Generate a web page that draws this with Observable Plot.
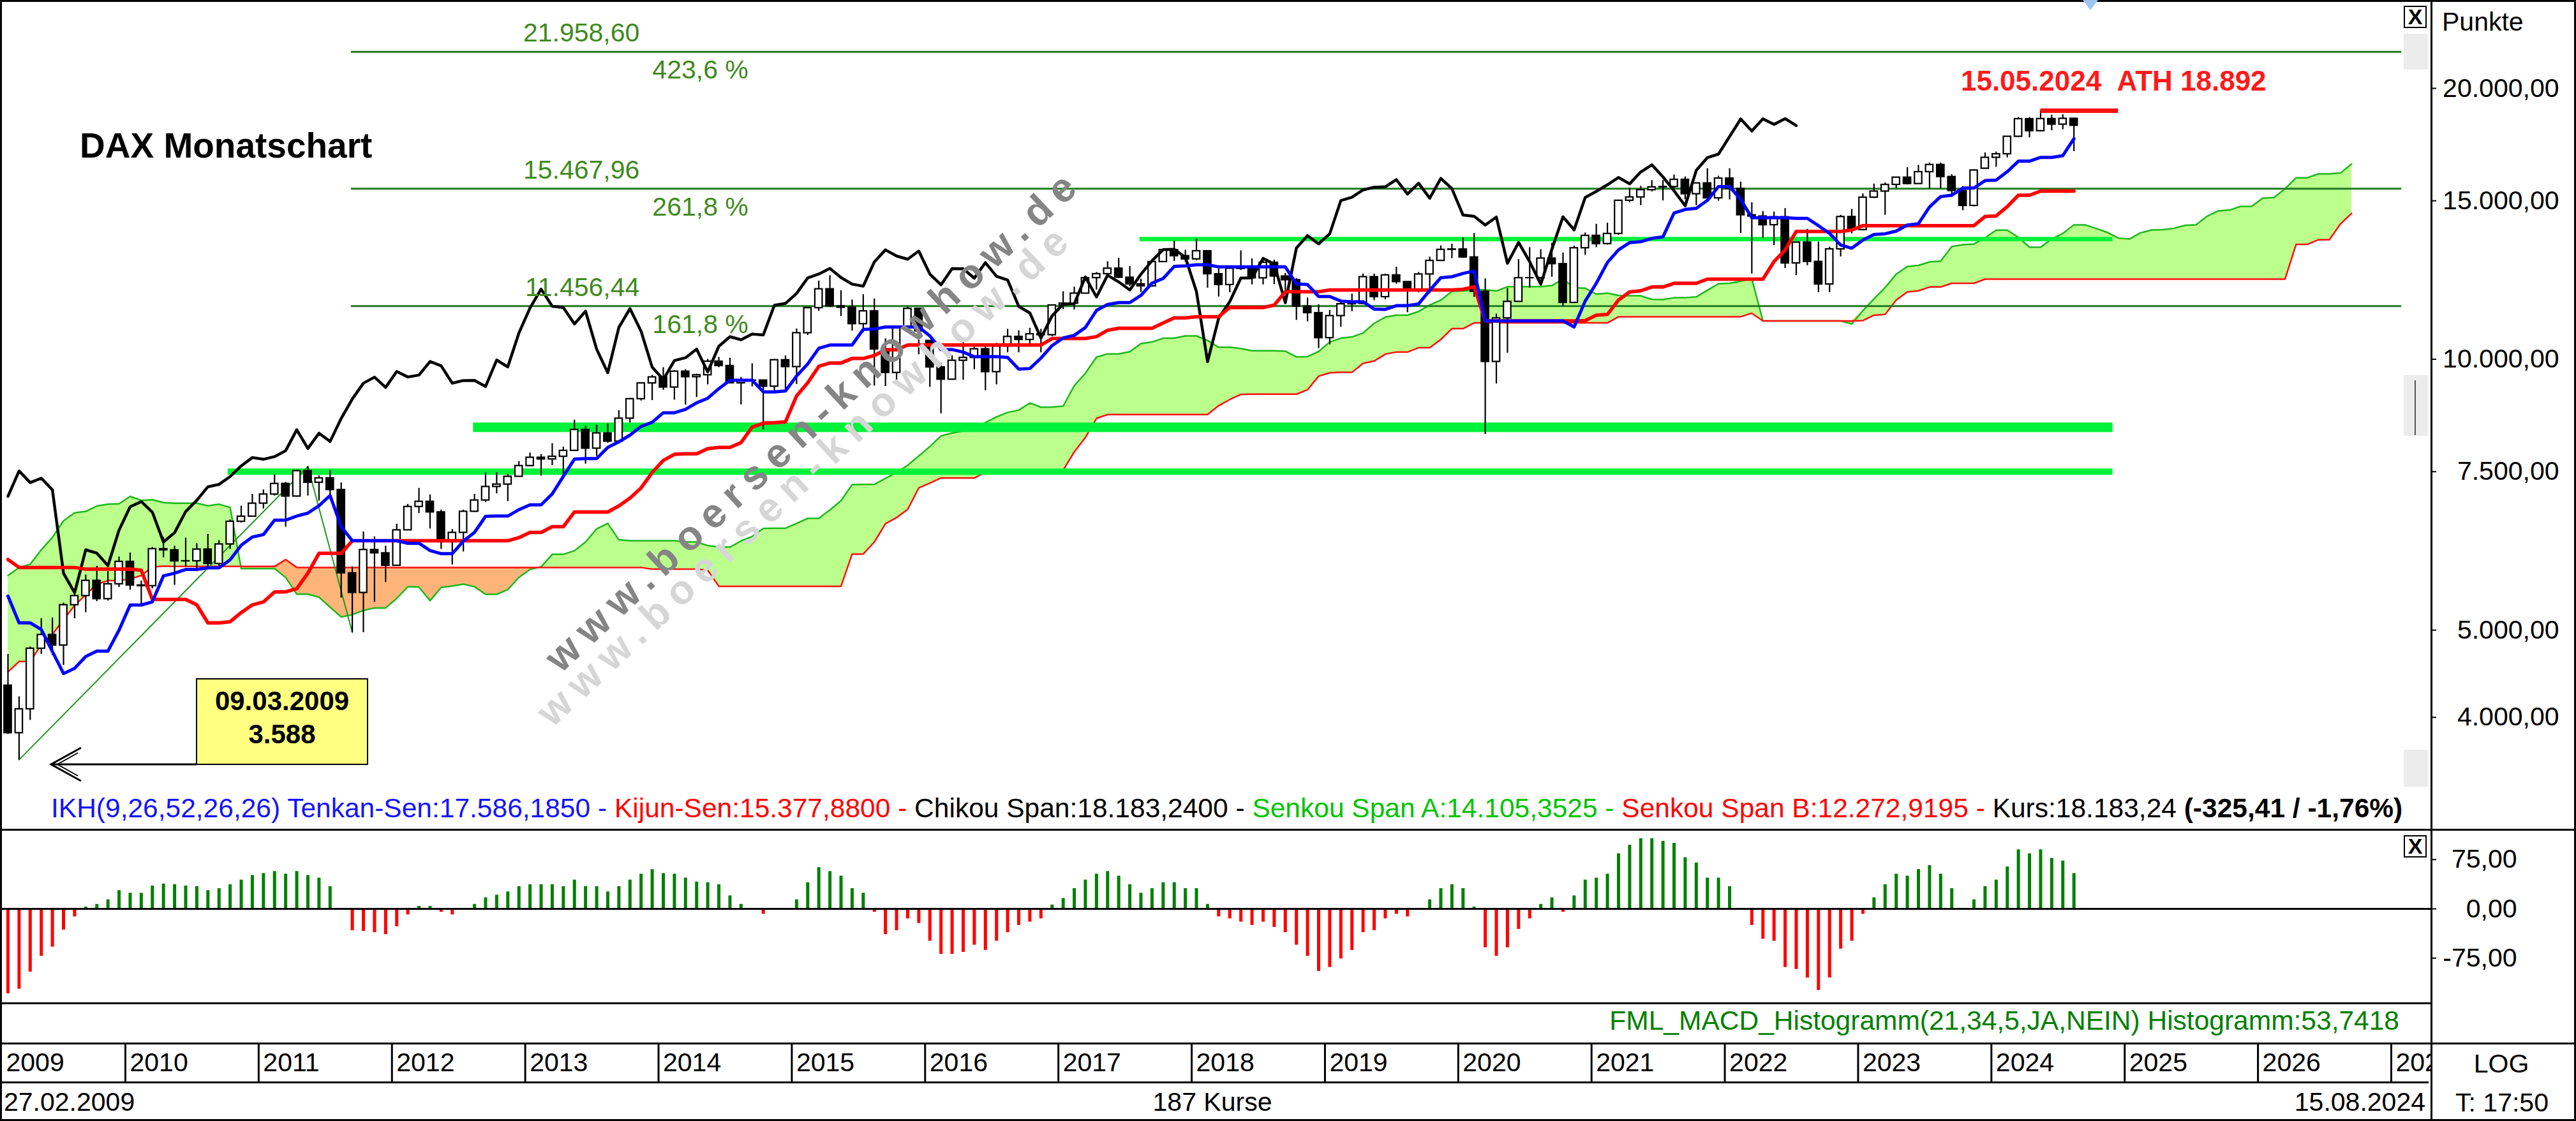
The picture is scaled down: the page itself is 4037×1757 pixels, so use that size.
<!DOCTYPE html>
<html><head><meta charset="utf-8">
<script src="https://cdn.jsdelivr.net/npm/d3@7"></script>
<script src="https://cdn.jsdelivr.net/npm/@observablehq/plot@0.6"></script>
<style>
html,body{margin:0;padding:0;background:#fff;}
#wrap{position:relative;width:4037px;height:1757px;overflow:hidden;background:#fff;font-family:"Liberation Sans",Arial,sans-serif;color:#000;}
#wrap svg{position:absolute;left:0;}
.t{position:absolute;white-space:nowrap;font-size:41px;line-height:48px;height:48px;}
.ln{position:absolute;background:#000;}
.gbox{position:absolute;background:#ececec;}
.xbox{position:absolute;border:2px solid #000;box-sizing:border-box;font-size:34px;line-height:30px;text-align:center;font-weight:bold;background:#fff;}
.wm{position:absolute;white-space:nowrap;font-weight:bold;font-size:64px;letter-spacing:14px;transform:translate(-50%,-50%) rotate(-43deg);}
</style></head><body><div id="wrap"></div>
<script>
// ---------------- DATA (monthly DAX candles, Feb 2009 .. Aug 2024) ----------------
const open = [
4340,3843,4085,4770,4941,4809,5332,5458,5675,5415,5625,
5957,5608,5598,6154,6136,5965,5966,6148,5925,6229,6601,6688,
6914,7077,7272,7041,7514,7294,7376,7159,5785,5502,6141,6089,
5898,6458,6856,6947,6761,6264,6416,6772,6970,7216,7260,7406,
7612,7776,7742,7795,7914,8349,7959,8276,8103,8594,9033,9405,
9552,9306,9692,9556,9603,9943,9833,9407,9470,9474,9327,9980,
9806,10694,11402,11966,11454,11414,10945,11309,10259,9660,10850,11382,
10485,9798,9495,9966,10039,10263,9680,10337,10593,10511,10665,10640,
11481,11535,11834,12313,12438,12615,12325,12118,12056,12829,13230,13024,
12918,13189,12436,12097,12612,12605,12306,12806,12364,12247,11448,11257,
10559,11173,11516,11526,12344,11727,12399,12189,11939,12428,12867,13236,
13249,12981,11890,9936,11107,11587,12311,12313,12945,12761,11556,13291,
13719,13433,13786,15008,15136,15421,15531,15544,15835,15261,15689,15100,
15885,15471,14461,14415,14098,14388,12784,13484,12835,12114,13253,14397,
13924,15128,15365,15629,15922,15664,16148,16447,15947,15387,14810,16290,
16752,16904,17678,18492,17932,18498,18235,18509];
const high = [
4700,4217,4790,5150,5160,5360,5480,5760,5890,5810,6030,
6094,5670,6180,6340,6200,6330,6240,6390,6290,6630,6870,7080,
7160,7440,7300,7530,7600,7420,7520,7290,5880,6430,6350,6200,
6560,6900,7190,7070,6800,6470,6800,7080,7480,7480,7450,7700,
7870,7840,8060,7990,8560,8430,8450,8480,8770,9050,9420,9600,
9790,9720,9740,9630,10000,10050,10030,9550,9890,9480,10000,10090,
10810,11410,12220,12390,11920,11640,11800,11670,10540,10880,11430,11390,
10490,9900,10100,10490,10340,10350,10420,10800,10760,10830,10800,11490,
11890,12030,12320,12490,12840,12950,12680,12280,12840,13240,13530,13220,
13600,13210,12600,12660,13200,12930,12880,12890,12460,12300,11700,11500,
11330,11590,11820,12440,12440,12440,12660,12200,12490,12990,13370,13430,
13640,13800,12290,11230,11990,12910,13310,13240,13460,13130,13360,13820,
14130,14170,15010,15500,15570,15800,15800,16030,15950,15700,16290,15980,
16290,15740,14930,14600,14580,14710,13490,13950,13500,13330,14460,14680,
15270,15660,15710,15930,16330,16430,16530,16530,16040,15560,16250,16960,
17000,17690,18570,18570,18892,18680,18700,18540];
const low = [
3830,3588,3970,4700,4690,4570,5150,5230,5380,5390,5580,
5540,5340,5560,6020,5610,5880,5810,5860,5890,6150,6580,6680,
6820,7050,6510,7030,7050,6960,7000,5430,4970,4970,5370,5650,
5890,6450,6740,6480,6150,5910,6110,6760,6930,7090,6950,7400,
7600,7420,7620,7420,7900,7650,7800,8070,8100,8500,8990,9000,
9240,9010,8900,9070,9370,9790,9400,8900,9320,8350,9200,9220,
9380,10630,11310,11420,11160,10750,10710,9340,9330,9360,10710,10120,
9310,8700,9480,9480,9740,9230,9370,10170,10170,10340,10170,10600,
11360,11350,11830,11940,12420,12300,12050,11870,12030,12820,12850,12830,
12870,12000,11730,11860,12560,12100,12100,12110,11870,11050,11010,10280,
10380,10860,11300,11500,11620,11650,12120,11270,11860,11830,12860,12940,
12950,11720,8256,9390,10160,11800,12000,12250,12340,11450,11550,13050,
13310,13400,13740,14930,14820,15350,15000,15440,15050,14820,15100,14990,
15040,13800,12440,13620,13380,12620,12390,12710,11863,11860,13000,13790,
13900,15090,14460,15480,15630,15730,15460,15470,15140,14630,14780,16280,
16350,16750,17650,17630,17900,17950,18000,17020];
const close = [
3843,4085,4770,4941,4809,5332,5458,5675,5415,5625,5957,
5608,5598,6154,6136,5965,5966,6148,5925,6229,6601,6688,6914,
7077,7272,7041,7514,7294,7376,7159,5785,5502,6141,6089,5898,
6458,6856,6947,6761,6264,6416,6772,6970,7216,7260,7406,7612,
7776,7742,7795,7914,8349,7959,8276,8103,8594,9033,9405,9552,
9306,9692,9556,9603,9943,9833,9407,9470,9474,9327,9980,9806,
10694,11402,11966,11454,11414,10945,11309,10259,9660,10850,11382,10743,
9798,9495,9966,10039,10263,9680,10337,10593,10511,10665,10640,11481,
11535,11834,12313,12438,12615,12325,12118,12056,12829,13230,13024,12918,
13189,12436,12097,12612,12605,12306,12806,12364,12247,11448,11257,10559,
11173,11516,11526,12344,11727,12399,12189,11939,12428,12867,13236,13249,
12981,11890,9936,11107,11587,12311,12313,12945,12761,11556,13291,13719,
13433,13786,15008,15136,15421,15531,15544,15835,15261,15689,15100,15885,
15471,14461,14415,14098,14388,12784,13484,12835,12114,13253,14397,13924,
15128,15365,15629,15922,15664,16148,16447,15947,15387,14810,16215,16752,
16904,17678,18492,17932,18498,18235,18509,18183];

// Ichimoku lines (one value per monthly candle)
const tenkan = [
5455,5094,5094,5009,4734,4474,4534,4674,4739,4739,5000,
5332,5332,5375,5745,5785,5840,5840,5865,5865,5985,6215,6345,
6385,6625,6625,6695,6745,6875,7055,6515,6285,6285,6285,6285,
6285,6245,6245,6130,6080,6080,6280,6420,6690,6695,6695,6805,
6890,6890,7085,7410,7745,7755,7755,7980,8095,8235,8420,8510,
8720,8720,8795,8945,9050,9275,9475,9475,9475,9200,9200,9220,
9580,9880,10285,10370,10370,10370,10795,10805,10860,10860,10860,10860,
10615,10250,10250,10185,10065,10065,10065,10045,9750,9765,10030,10355,
10560,10630,10845,11330,11505,11560,11560,11775,12150,12295,12680,12700,
12735,12735,12665,12665,12665,12665,12665,12665,12665,12130,12105,11740,
11740,11605,11585,11585,11370,11360,11470,11470,11520,11925,12320,12350,
12455,12535,11030,11030,11030,11030,11030,11030,11030,11030,10860,11605,
12145,12810,13230,13475,13510,13625,13675,14540,14670,14715,15015,15555,
15555,15045,14365,14365,14365,14365,14340,14340,14075,13800,13395,13285,
13565,13760,13785,13880,14095,14145,14765,15160,15215,15495,15495,15795,
15815,16160,16600,16600,16761,16761,16836,17586];
const kijun = [
5990,5870,5870,5870,5870,5870,5870,5844,5844,5844,5844,
5844,5829,5409,5409,5409,5409,5334,5094,5094,5109,5229,5334,
5374,5514,5514,5559,5785,6085,6085,6085,6285,6285,6285,6285,
6285,6285,6285,6285,6285,6285,6285,6285,6285,6285,6285,6335,
6420,6420,6515,6515,6765,6765,6765,6765,6870,7010,7195,7485,
7720,7840,7850,7850,7955,7980,7980,8080,8405,8490,8500,8520,
9105,9415,9820,9905,9905,10020,10020,10095,10245,10245,10370,10370,
10370,10370,10370,10370,10370,10370,10370,10370,10370,10370,10370,10545,
10545,10545,10545,10595,10770,10825,10825,10825,10825,10970,11115,11115,
11150,11150,11150,11415,11415,11415,11415,11485,11885,11885,11885,11885,
11940,11940,11940,11940,11940,11940,11940,11940,11940,11940,11940,11940,
11960,12040,11030,11030,11030,11030,11030,11030,11030,11030,11030,11040,
11195,11215,11635,11880,11915,12030,12030,12145,12145,12145,12275,12275,
12275,12275,12275,12275,12840,13225,13870,13870,13870,13870,13870,13920,
14075,14075,14075,14075,14075,14075,14075,14075,14075,14075,14075,14410,
14430,14775,15215,15215,15376,15376,15376,15376];
// Senkou spans, already displaced 26 periods: index 0 = Feb 2009 ... 211 = Sep 2026
const senkouA = [
5750,5868,5920,6140,6340,6615,6750,6775,6870,6900,6910,7040,6970,6980,6930,6918,6918,6918,6873,6900,6845,5852,5852,5852,5852,
5723,5482,5482,5440,5302,5172,5202,5259,5292,5292,5422,
5588,5581,5392,5577,5597,5625,5587,5480,5480,5547,5722,5840,
5880,6070,6070,6127,6265,6480,6570,6300,6285,6285,6285,6285,
6285,6265,6265,6208,6183,6183,6283,6353,6485,6490,6490,6570,
6655,6655,6800,6963,7255,7260,7260,7373,7483,7623,7808,7998,
8220,8280,8323,8398,8503,8628,8728,8778,8940,8845,8850,8870,
9343,9648,10053,10138,10138,10195,10408,10450,10553,10553,10615,10615,
10493,10310,10310,10278,10218,10218,10218,10208,10060,10068,10200,10450,
10553,10588,10695,10963,11138,11193,11193,11300,11488,11633,11898,11908,
11943,11943,11908,12040,12040,12040,12040,12075,12275,12008,11995,11813,
11840,11773,11763,11763,11655,11650,11705,11705,11730,11933,12130,12145,
12208,12288,11030,11030,11030,11030,11030,11030,11030,11030,10945,11323,
11670,12013,12433,12678,12713,12828,12853,13343,13408,13430,13645,13915,
13915,13660,13320,13320,13603,13795,14105,14105,13973,13835,13633,13603,
13820,13918,13930,13978,14085,14110,14420,14618,14645,14785,14785,15103,
15123,15468,15908,15908,16069,16069,16106,16481];
const senkouB = [
4494,4614,4614,4819,4944,5139,5325,5475,5625,5675,5675,5700,5750,5875,5890,5885,5885,5885,5885,5885,5885,5885,5885,5885,5885,
5990,5870,5870,5870,5870,5870,5870,5870,5870,5870,5870,
5870,5870,5870,5870,5870,5870,5870,5870,5870,5870,5870,5870,
5870,5870,5870,5870,5870,5870,5870,5870,5870,5870,5844,5844,
5844,5844,5844,5829,5594,5594,5594,5594,5594,5594,5594,5594,
5594,5594,5594,5594,6074,6074,6265,6565,6670,6810,7195,7285,
7380,7380,7380,7380,7485,7510,7510,7510,7510,7510,7510,7530,
7890,8185,8595,8680,8680,8680,8680,8680,8680,8680,8680,8680,
8680,8880,9020,9140,9145,9145,9145,9145,9145,9250,9575,9660,
9670,9670,9895,9955,10130,10185,10185,10300,10300,10520,10815,10815,
10975,10975,10975,10975,10975,10975,10975,10975,10975,10975,10975,10975,
10975,11150,11150,11150,11150,11150,11150,11150,11150,11150,11150,11150,
11150,11250,11030,11030,11030,11030,11030,11030,11030,11030,11030,11040,
11195,11215,11635,11880,11915,12030,12030,12145,12145,12145,12275,12275,
12275,12275,12275,12275,12275,12275,12275,12275,12275,12275,12275,12275,
12275,12275,12275,12275,12275,12275,12275,12275,12275,12275,12275,12275,
12275,12275,13415,13415,13576,13576,14141,14526];
// FML MACD histogram (21,34,5), one value per candle
const macdHist = [
-129,-122,-96,-72,-58,-32,-12,3,7,14,
28,24,24,35,38,37,35,34,28,31,
37,44,51,54,57,53,57,51,47,34,
-2,-33,-34,-36,-39,-27,-9,4,4,-5,
-9,1,7,17,21,26,34,37,37,37,
34,44,34,34,26,34,44,53,60,54,
53,47,41,40,37,20,7,0,-8,0,
0,14,40,63,57,50,31,24,-5,-39,
-33,-15,-22,-49,-69,-69,-66,-55,-63,-49,
-36,-25,-20,-15,6,16,31,44,53,57,
50,37,24,31,40,40,31,31,7,-12,
-15,-20,-25,-20,-28,-36,-55,-72,-95,-89,
-76,-63,-36,-33,-15,-8,-12,0,14,31,
37,31,3,-59,-72,-59,-31,-15,7,17,
-5,20,44,47,53,84,97,107,107,103,
100,78,70,47,47,34,0,-25,-46,-49,
-89,-92,-105,-124,-105,-61,-49,-8,17,37,
53,50,60,66,53,31,0,14,34,44,
64,90,84,90,77,73,54];
const chikouShift = 25;

// Annotation levels (value, and month index range)
const fibLevels = [11456.44, 15467.96, 21958.60];
const fibPct = ["161,8 %", "261,8 %", "423,6 %"];
const fibFrom = 30.9, fibTo = 215.5;
const supportLevels = [13600, 8400, 7500];
const supportFrom = [101.9, 41.9, 19.8];
const supportTo = 189.5;
const trendPts = [{i: 1, v: 3588}, {i: 27, v: 7600}, {i: 31, v: 4970}];
const ath = {i: 183, to: 190, v: 18892, date: "15.05.2024"};
const yTicks = [4000, 5000, 7500, 10000, 15000, 20000];
const macdTicks = [75, 0, -75];
const yearLabels = ["2010","2011","2012","2013","2014","2015","2016","2017","2018","2019","2020","2021","2022","2023","2024","2025","2026","2027"];
const firstYear = "2009";

// ---------------- CHART ----------------
const de = d3.formatLocale({decimal: ",", thousands: ".", grouping: [3], currency: ["", ""], minus: "-"});
const fmt2 = de.format(",.2f");
const fmt0 = de.format(",.0f");
const FONT = "'Liberation Sans', Arial, sans-serif";
const xDomain = [-0.689, 218.19];
const W = 4037, MR = 227;
const wrap = document.getElementById("wrap");

const candles = close.map((c, i) => ({i, o: open[i], h: high[i], l: low[i], c}));
const ichi = tenkan.map((t, i) => ({i, t, k: kijun[i]}));
const cloud = senkouA.map((a, j) => ({j, a, b: senkouB[j]}));
const chikou = close.map((c, i) => ({x: i - chikouShift, c})).filter(d => d.x >= 0);
const macd = macdHist.map((v, i) => ({i, v}));

const baseStyle = {fontFamily: FONT, fontSize: "41px", background: "transparent", overflow: "visible", color: "#000"};

const main = Plot.plot({
  width: W, height: 1300,
  marginTop: 3, marginBottom: 3, marginLeft: 0, marginRight: MR,
  x: {domain: xDomain, axis: null},
  y: {type: "log", domain: [3015, 24930]},
  style: baseStyle,
  marks: [
    Plot.areaY(cloud, {x: "j", y1: "b", y2: d => Math.max(d.a, d.b), fill: "#bbff8c"}),
    Plot.areaY(cloud, {x: "j", y1: "a", y2: d => Math.max(d.a, d.b), fill: "#ffb57a"}),
    Plot.line(cloud, {x: "j", y: "a", stroke: "#1cb81c", strokeWidth: 2.5}),
    Plot.line(cloud, {x: "j", y: "b", stroke: "#ff1010", strokeWidth: 2.5}),
    Plot.ruleY(fibLevels, {y: d => d, x1: () => fibFrom, x2: () => fibTo, stroke: "#217a21", strokeWidth: 3}),
    Plot.ruleY([supportLevels[0]], {y: d => d, x1: () => supportFrom[0], x2: () => supportTo, stroke: "#00f23a", strokeWidth: 7}),
    Plot.ruleY([supportLevels[1]], {y: d => d, x1: () => supportFrom[1], x2: () => supportTo, stroke: "#00f23a", strokeWidth: 15}),
    Plot.ruleY([supportLevels[2]], {y: d => d, x1: () => supportFrom[2], x2: () => supportTo, stroke: "#00f23a", strokeWidth: 10}),
    Plot.line(trendPts, {x: "i", y: "v", stroke: "#1f961f", strokeWidth: 2}),
    Plot.ruleX(candles, {x: "i", y1: "l", y2: "h", stroke: "#000", strokeWidth: 2.2}),
    Plot.rect(candles, {x1: d => d.i - 0.33, x2: d => d.i + 0.33, y1: "o", y2: "c",
      fill: d => d.c >= d.o ? "#ffffff" : "#000000", stroke: "#000", strokeWidth: 2.2}),
    Plot.line(chikou, {x: "x", y: "c", stroke: "#000", strokeWidth: 4.5}),
    Plot.line(ichi, {x: "i", y: "k", stroke: "#ff0000", strokeWidth: 5.5}),
    Plot.line(ichi, {x: "i", y: "t", stroke: "#0000ff", strokeWidth: 5}),
    Plot.ruleY([ath], {y: "v", x1: "i", x2: "to", stroke: "#ff1010", strokeWidth: 7}),
    Plot.text(fibLevels, {x: () => fibFrom, y: d => d, text: d => fmt2(d), textAnchor: "end", dx: 452, dy: -29, fill: "#3f8a1c", fontSize: 41}),
    Plot.text(fibLevels, {x: () => fibFrom, y: d => d, text: (d, i) => fibPct[i], textAnchor: "start", dx: 472, dy: 29, fill: "#3f8a1c", fontSize: 41}),
    Plot.text([ath], {x: "i", y: "v", text: d => d.date + "\u00a0\u00a0ATH " + fmt0(d.v), textAnchor: "start", dx: -125, dy: -45, fill: "#ff1a1a", fontWeight: "bold", fontSize: 44}),
    Plot.axisY({anchor: "right", ticks: yTicks, tickFormat: fmt2, tickSize: 7, tickPadding: 193, textAnchor: "end", fontSize: 41, strokeWidth: 2, label: null})
  ]
});
main.style.top = "0px";
wrap.appendChild(main);

const macdPlot = Plot.plot({
  width: W, height: 272,
  marginTop: 0, marginBottom: 0, marginLeft: 0, marginRight: MR,
  x: {domain: xDomain, axis: null},
  y: {domain: [-143.7, 120.4]},
  style: baseStyle,
  marks: [
    Plot.ruleX(macd, {x: "i", y1: 0, y2: "v", stroke: d => d.v >= 0 ? "#008000" : "#ff0000", strokeWidth: 5}),
    Plot.ruleY([0], {stroke: "#000", strokeWidth: 3}),
    Plot.axisY({anchor: "right", ticks: macdTicks, tickFormat: fmt2, tickSize: 7, tickPadding: 127, textAnchor: "end", fontSize: 41, strokeWidth: 2, label: null})
  ]
});
macdPlot.style.top = "1300px";
wrap.appendChild(macdPlot);

const axisPlot = Plot.plot({
  width: W, height: 61,
  marginTop: 0, marginBottom: 0, marginLeft: 0, marginRight: MR,
  x: {domain: xDomain, axis: null},
  style: baseStyle,
  marks: [
    Plot.ruleX(yearLabels, {x: d => 12 * (+d - +firstYear) - 1.43, stroke: "#000", strokeWidth: 3}),
    Plot.text(yearLabels, {x: d => 12 * (+d - +firstYear) - 1.43, text: d => d, textAnchor: "start", dx: 7, fontSize: 41, clip: true}),
    Plot.text([firstYear], {frameAnchor: "left", text: d => d, textAnchor: "start", dx: 9, fontSize: 41})
  ]
});
axisPlot.style.top = "1635px";
wrap.appendChild(axisPlot);

// ---------------- FURNITURE / TEXT ----------------
function el(cls, css, html) {
  const d = document.createElement("div");
  d.className = cls;
  Object.assign(d.style, css);
  if (html != null) d.innerHTML = html;
  wrap.appendChild(d);
  return d;
}
// separators
el("ln", {left: "3809px", top: "0px", width: "3px", height: "1757px"});
el("ln", {left: "0px", top: "1299px", width: "4037px", height: "3px"});
el("ln", {left: "0px", top: "1571px", width: "3811px", height: "3px"});
el("ln", {left: "0px", top: "1634px", width: "4037px", height: "3px"});
el("ln", {left: "0px", top: "1695px", width: "3806px", height: "3px"});
el("", {position: "absolute", left: "0", top: "0", width: "4037px", height: "1757px", border: "3px solid #000", boxSizing: "border-box"});

// right-side widgets
el("xbox", {left: "3767px", top: "9px", width: "36px", height: "35px"}, "X");
el("gbox", {left: "3767px", top: "53px", width: "38px", height: "56px"});
el("gbox", {left: "3767px", top: "588px", width: "38px", height: "95px"});
el("ln", {left: "3784px", top: "596px", width: "2px", height: "86px", background: "#555"});
el("gbox", {left: "3767px", top: "1175px", width: "38px", height: "58px"});
el("xbox", {left: "3767px", top: "1309px", width: "36px", height: "35px"}, "X");
el("", {position: "absolute", left: "3264px", top: "0px", width: "0", height: "0", borderLeft: "12px solid transparent", borderRight: "12px solid transparent", borderTop: "16px solid #9fc5ee"});

// titles and labels
el("t", {left: "125px", top: "204px", fontSize: "55px", fontWeight: "bold"}, "DAX Monatschart");
el("t", {left: "3827px", top: "10px"}, "Punkte");
el("t", {left: "80px", top: "1243px", fontSize: "42.5px"},
  '<span style="color:#1414ff">IKH(9,26,52,26,26) Tenkan-Sen:17.586,1850 - </span>' +
  '<span style="color:#ff0000">Kijun-Sen:15.377,8800 - </span>' +
  '<span style="color:#000">Chikou Span:18.183,2400 - </span>' +
  '<span style="color:#00c400">Senkou Span A:14.105,3525 - </span>' +
  '<span style="color:#ff0000">Senkou Span B:12.272,9195 - </span>' +
  '<span style="color:#000">Kurs:18.183,24 <b>(-325,41 / -1,76%)</b></span>');
el("t", {right: "277px", top: "1576px", color: "#008000", fontSize: "42.5px"}, "FML_MACD_Histogramm(21,34,5,JA,NEIN) Histogramm:53,7418");
el("t", {left: "6px", top: "1703px"}, "27.02.2009");
el("t", {left: "1900px", top: "1703px", transform: "translateX(-50%)"}, "187 Kurse");
el("t", {right: "236px", top: "1703px"}, "15.08.2024");
el("t", {left: "3920px", top: "1643px", transform: "translateX(-50%)"}, "LOG");
el("t", {left: "3921px", top: "1704px", transform: "translateX(-50%)"}, "T: 17:50");

// low callout
el("", {position: "absolute", left: "307px", top: "1063px", width: "270px", height: "136px", background: "#ffff80", border: "2px solid #000", boxSizing: "border-box", textAlign: "center", fontWeight: "bold", fontSize: "42px", lineHeight: "52px", paddingTop: "8px"}, "09.03.2009<br>3.588");
const ns = "http://www.w3.org/2000/svg";
const arr = document.createElementNS(ns, "svg");
arr.setAttribute("width", "320"); arr.setAttribute("height", "80");
arr.style.cssText = "position:absolute;left:60px;top:1158px;overflow:visible";
arr.innerHTML = '<line x1="20" y1="40" x2="248" y2="40" stroke="#000" stroke-width="3"/>' +
  '<path d="M67,14 L20,40 L67,66" fill="none" stroke="#000" stroke-width="3"/>' +
  '<path d="M62,22 L30,40 L62,58" fill="none" stroke="#000" stroke-width="2"/>';
wrap.appendChild(arr);

// watermark
el("wm", {left: "1262px", top: "742px", color: "#d6d6d6"}, "www.boersen-knowhow.de");
el("wm", {left: "1275px", top: "657px", color: "#858585"}, "www.boersen-knowhow.de");
</script></body></html>
